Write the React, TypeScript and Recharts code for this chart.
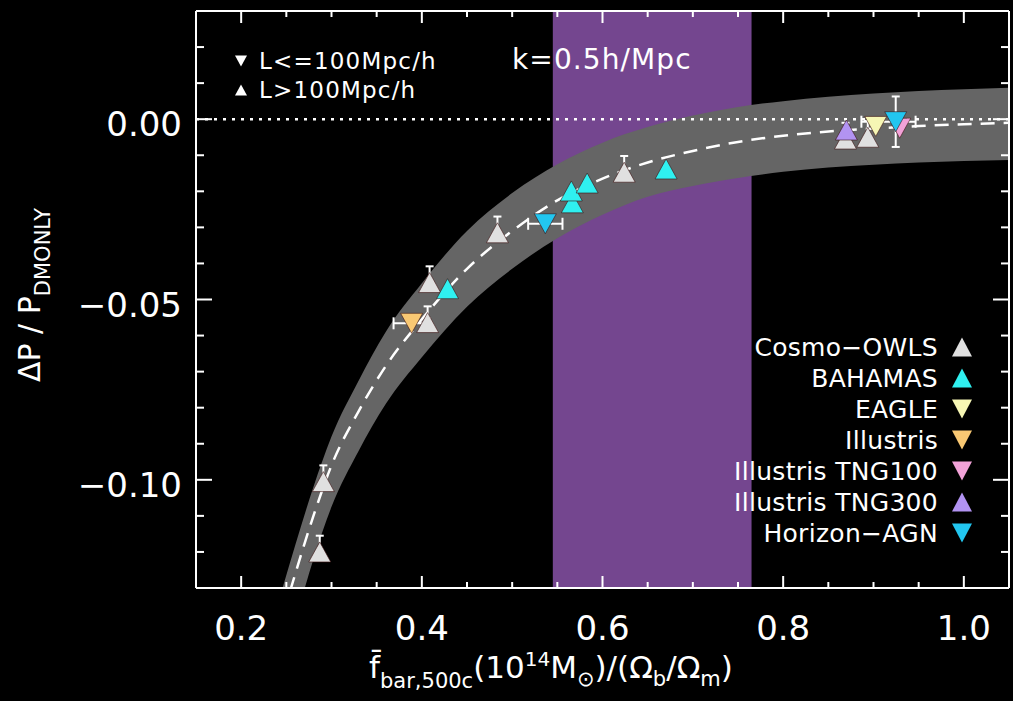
import {
  ComposedChart,
  Area,
  Line,
  Scatter,
  XAxis,
  YAxis,
  ReferenceArea,
  ReferenceLine,
  ErrorBar,
} from "recharts"

const FONT = "'DejaVu Sans', sans-serif"

// fitted relation and its scatter band
const curveX = [0.24, 0.26, 0.28, 0.3, 0.33, 0.36, 0.4, 0.45, 0.5, 0.55, 0.6, 0.65, 0.7, 0.75, 0.8, 0.85, 0.9, 0.95, 1.0, 1.05]
const curveMean = [-0.143, -0.126, -0.11, -0.096, -0.081, -0.0685, -0.0555, -0.0415, -0.031, -0.0225, -0.0165, -0.012, -0.0088, -0.0063, -0.0046, -0.0034, -0.0026, -0.0019, -0.0014, -0.001]
const bandHigh = [-0.135, -0.118, -0.102, -0.088, -0.0725, -0.059, -0.0455, -0.031, -0.0205, -0.0125, -0.0065, -0.0022, 0.001, 0.0034, 0.005, 0.0062, 0.0071, 0.0078, 0.0083, 0.0087]
const bandLow = [-0.156, -0.139, -0.122, -0.1075, -0.092, -0.079, -0.066, -0.052, -0.0415, -0.033, -0.0265, -0.0215, -0.0185, -0.0163, -0.0146, -0.0134, -0.0126, -0.012, -0.0116, -0.0113]

// shaded k range
const kRange = [0.545, 0.765]

// simulations
const cosmoOwls = [
  { x: 0.287, y: -0.12, ey: [0.002, 0.0045] },
  { x: 0.291, y: -0.1005, ey: [0.002, 0.0045] },
  { x: 0.4064, y: -0.0564, ey: [0.002, 0.0045] },
  { x: 0.4086, y: -0.0453, ey: [0.002, 0.0045] },
  { x: 0.4837, y: -0.0315, ey: [0.002, 0.0045] },
  { x: 0.624, y: -0.0147, ey: [0.002, 0.0045] },
  { x: 0.869, y: -0.0055, ey: [0.002, 0.0045] },
  { x: 0.8937, y: -0.005, ey: [0.002, 0.0045] },
]
const bahamas = [
  { x: 0.4285, y: -0.047 },
  { x: 0.5666, y: -0.0232 },
  { x: 0.5655, y: -0.0199 },
  { x: 0.583, y: -0.0177 },
  { x: 0.6704, y: -0.0138 },
]
const eagle = [{ x: 0.9025, y: -0.002 }]
const illustris = [{ x: 0.3887, y: -0.0566, ex: 0.02 }]
const tng100 = [{ x: 0.929, y: -0.0025 }]
const tng300 = [{ x: 0.87, y: -0.003 }]
const horizonAgn = [
  { x: 0.5367, y: -0.029, ex: 0.019, ey: 0 },
  { x: 0.9246, y: -0.0007, ex: [0.038, 0.022], ey: 0.007 },
]

const seriesNames = ["Cosmo-OWLS", "BAHAMAS", "EAGLE", "Illustris", "Illustris TNG100", "Illustris TNG300", "Horizon-AGN"]
const seriesColors = ["#e0e0e0", "#2ff0f0", "#f6f6b4", "#f9c873", "#f2a2d8", "#b293f2", "#22c6f0"]
const seriesUp = [true, true, false, false, false, true, false]

const xTicks = [0.2, 0.25, 0.3, 0.35, 0.4, 0.45, 0.5, 0.55, 0.6, 0.65, 0.7, 0.75, 0.8, 0.85, 0.9, 0.95, 1.0]
const xLabels = [0.2, 0.4, 0.6, 0.8, 1.0]
const yTicks = [-0.12, -0.11, -0.1, -0.09, -0.08, -0.07, -0.06, -0.05, -0.04, -0.03, -0.02, -0.01, 0, 0.01, 0.02]
const yLabels = [-0.1, -0.05, 0]

const bandData = curveX.map((x, i) => ({
  x,
  mean: curveMean[i],
  band: [bandLow[i], bandHigh[i]],
}))

const PLOT_LEFT = 196
const PLOT_TOP = 11
const PLOT_RIGHT = 1009
const PLOT_BOTTOM = 588

const isMajor = (v: number, list: number[]) => list.some((m) => Math.abs(m - v) < 1e-6)
const fmtY = (v: number) => (v < 0 ? "\u2212" : "") + Math.abs(v).toFixed(2)

function triPoints(cx: number, cy: number, up: boolean, w: number, h: number) {
  return up
    ? `${cx},${cy - h / 2} ${cx - w / 2},${cy + h / 2} ${cx + w / 2},${cy + h / 2}`
    : `${cx - w / 2},${cy - h / 2} ${cx + w / 2},${cy - h / 2} ${cx},${cy + h / 2}`
}

function triangleShape(color: string, up: boolean) {
  return (props: any) => {
    const { cx, cy } = props
    if (cx == null || cy == null) return <g />
    return <polygon points={triPoints(cx, cy, up, 22, 20)} fill={color} stroke="#3a1010" strokeWidth={0.6} />
  }
}

function BottomTick(props: any) {
  const { x, payload } = props
  const major = isMajor(payload.value, xLabels)
  const y = PLOT_BOTTOM
  return (
    <g>
      <line x1={x} x2={x} y1={y} y2={y - (major ? 12 : 6)} stroke="#fff" strokeWidth={2} />
      {major && (
        <text x={x} y={y + 52} textAnchor="middle" fill="#fff" fontSize={34} fontFamily={FONT}>
          {payload.value.toFixed(1)}
        </text>
      )}
    </g>
  )
}

function TopTick(props: any) {
  const { x, payload } = props
  const major = isMajor(payload.value, xLabels)
  const y = PLOT_TOP
  return <line x1={x} x2={x} y1={y} y2={y + (major ? 12 : 6)} stroke="#fff" strokeWidth={2} />
}

function LeftTick(props: any) {
  const { y, payload } = props
  const major = isMajor(payload.value, yLabels)
  const x = PLOT_LEFT
  return (
    <g>
      <line x1={x} x2={x + (major ? 16 : 8)} y1={y} y2={y} stroke="#fff" strokeWidth={2} />
      {major && (
        <text x={182} y={y + 17} textAnchor="end" fill="#fff" fontSize={34} fontFamily={FONT}>
          {fmtY(payload.value)}
        </text>
      )}
    </g>
  )
}

function RightTick(props: any) {
  const { y, payload } = props
  const major = isMajor(payload.value, yLabels)
  const x = PLOT_RIGHT
  return <line x1={x} x2={x - (major ? 16 : 8)} y1={y} y2={y} stroke="#fff" strokeWidth={2} />
}

const seriesData = [cosmoOwls, bahamas, eagle, illustris, tng100, tng300, horizonAgn]
const axisLine = { stroke: "#fff", strokeWidth: 2 }

export default function App() {
  return (
    <div style={{ position: "absolute", left: 0, top: 0, width: 1013, height: 701, background: "#000", overflow: "hidden" }}>
      <ComposedChart width={1013} height={701} data={bandData} margin={{ top: 6, right: 0, bottom: 53, left: 136 }}>
        <XAxis
          dataKey="x"
          type="number"
          domain={[0.15, 1.05]}
          allowDataOverflow
          ticks={xTicks}
          interval={0}
          height={60}
          tickSize={0}
          tickMargin={0}
          tickLine={false}
          axisLine={axisLine}
          tick={<BottomTick />}
        />
        <XAxis
          xAxisId="top"
          orientation="top"
          dataKey="x"
          type="number"
          domain={[0.15, 1.05]}
          allowDataOverflow
          ticks={xTicks}
          interval={0}
          height={5}
          tickSize={0}
          tickMargin={0}
          tickLine={false}
          axisLine={axisLine}
          tick={<TopTick />}
        />
        <YAxis
          type="number"
          domain={[-0.13, 0.03]}
          allowDataOverflow
          ticks={yTicks}
          interval={0}
          width={60}
          tickSize={0}
          tickMargin={0}
          tickLine={false}
          axisLine={axisLine}
          tick={<LeftTick />}
        />
        <YAxis
          yAxisId="right"
          orientation="right"
          type="number"
          domain={[-0.13, 0.03]}
          allowDataOverflow
          ticks={yTicks}
          interval={0}
          width={4}
          tickSize={0}
          tickMargin={0}
          tickLine={false}
          axisLine={axisLine}
          tick={<RightTick />}
        />
        <ReferenceArea x1={kRange[0]} x2={kRange[1]} fill="#74468f" fillOpacity={1} stroke="none" ifOverflow="hidden" />
        <Area dataKey="band" type="monotone" fill="#656565" fillOpacity={1} stroke="none" isAnimationActive={false} />
        <ReferenceLine y={0} stroke="#fff" strokeWidth={2.5} strokeDasharray="3 6" />
        <Line
          dataKey="mean"
          type="monotone"
          stroke="#fff"
          strokeWidth={2.5}
          strokeDasharray="14 9"
          dot={false}
          isAnimationActive={false}
        />
        {seriesData.map((d, i) => (
          <Scatter
            key={seriesNames[i]}
            name={seriesNames[i]}
            data={d}
            dataKey="y"
            shape={triangleShape(seriesColors[i], seriesUp[i])}
            isAnimationActive={false}
          >
            {d.some((p: any) => p.ex !== undefined) && (
              <ErrorBar dataKey="ex" direction="x" width={6} stroke="#fff" strokeWidth={2} />
            )}
            {d.some((p: any) => p.ey !== undefined) && (
              <ErrorBar dataKey="ey" direction="y" width={4} stroke="#fff" strokeWidth={2} />
            )}
          </Scatter>
        ))}
      </ComposedChart>

      <svg width={1013} height={701} style={{ position: "absolute", left: 0, top: 0, pointerEvents: "none" }} fontFamily={FONT}>
        <polygon points={triPoints(241, 61, false, 12, 11)} fill="#fff" />
        <polygon points={triPoints(241, 90, true, 12, 11)} fill="#fff" />
        <text x={259} y={69} fill="#fff" fontSize={23} letterSpacing={1.2}>L&lt;=100Mpc/h</text>
        <text x={259} y={98} fill="#fff" fontSize={23} letterSpacing={1.2}>L&gt;100Mpc/h</text>
        <text x={512} y={69} fill="#fff" fontSize={28} letterSpacing={1.1}>k=0.5h/Mpc</text>

        {seriesNames.map((n, i) => (
          <g key={n}>
            <text x={938} y={356 + i * 31} textAnchor="end" fill="#fff" fontSize={25} letterSpacing={0.3}>
              {n.replace("-", "\u2212")}
            </text>
            <polygon points={triPoints(962, 347 + i * 31, seriesUp[i], 20, 19)} fill={seriesColors[i]} />
          </g>
        ))}

        <text x={551} y={678} textAnchor="middle" fill="#fff" fontSize={31}>
          {"f\u0304"}
          <tspan fontSize={21} dy={10}>bar,500c</tspan>
          <tspan dy={-10}>(10</tspan>
          <tspan fontSize={20} dy={-12}>14</tspan>
          <tspan dy={12}>M</tspan>
          <tspan fontSize={21} dy={8}>{"\u2299"}</tspan>
          <tspan dy={-8}>)/(Ω</tspan>
          <tspan fontSize={21} dy={8}>b</tspan>
          <tspan dy={-8}>/Ω</tspan>
          <tspan fontSize={21} dy={8}>m</tspan>
          <tspan dy={-8}>)</tspan>
        </text>

        <g transform="translate(29,295) rotate(-90)">
          <text x={0} y={11} textAnchor="middle" fill="#fff" fontSize={30}>
            ΔP / P
            <tspan fontSize={21} dy={10}>DMONLY</tspan>
          </text>
        </g>
      </svg>
    </div>
  )
}
